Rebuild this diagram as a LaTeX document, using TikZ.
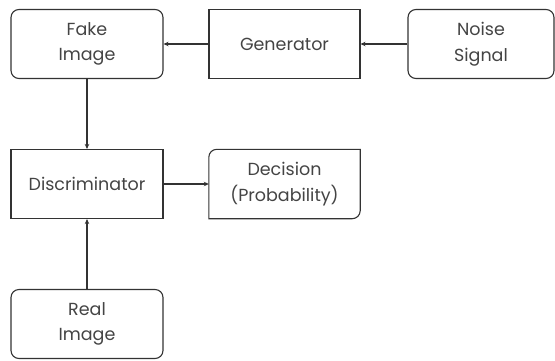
\documentclass[tikz,border=0pt]{standalone}
\usepackage{fontspec}
\setmainfont{Poppins}
\usetikzlibrary{positioning, arrows.meta}
\definecolor{linegray}{HTML}{333333}
\definecolor{textgray}{HTML}{444444}
\tikzstyle{data} = [rectangle, rounded corners=8pt, minimum width=152pt, minimum height=69pt, inner sep=0pt, text centered, draw=linegray, line width=1.1pt, text=textgray, align=center, font=\fontsize{17.5}{25.5}\selectfont]
\tikzstyle{process} = [rectangle, minimum width=151pt, minimum height=69pt, inner sep=0pt, text centered, draw=linegray, line width=1.1pt, text=textgray, align=center, font=\fontsize{17.5}{25.5}\selectfont]
\tikzstyle{output} = [rectangle, minimum width=151pt, minimum height=69pt, inner sep=0pt, text centered, text=textgray, align=center, font=\fontsize{17.5}{25.5}\selectfont]
\tikzstyle{arrow} = [line width=1.1pt, draw=linegray, -{Stealth[length=5pt, width=4.5pt]}]

\begin{document}
\begin{tikzpicture}[node distance=140pt]

\useasboundingbox (-87pt,44pt) rectangle (468pt,-316pt);

\node (fake) [data] {Fake\\Image};
\node (gen) [process, right of=fake, xshift=57.5pt] {Generator};
\node (noise) [data, right of=gen, xshift=56.5pt, minimum width=146pt] {Noise\\Signal};
\node (disc) [process, below of=fake, minimum width=152pt] {Discriminator};
\node (dec) [output, below of=gen] {Decision\\(Probability)};
\node (real) [data, below of=disc] {Real\\Image};

% decision box: only two corners rounded
\draw [line width=1.1pt, draw=linegray] (dec.north east) -- ([yshift=8pt]dec.south east) arc[start angle=0, end angle=-90, radius=8pt] -- (dec.south west) -- ([yshift=-8pt]dec.north west) arc[start angle=180, end angle=90, radius=8pt] -- cycle;

\draw [arrow] (noise) -- (gen);
\draw [arrow] (gen) -- (fake);
\draw [arrow] (fake) -- (disc);
\draw [arrow] (real) -- (disc);
\draw [arrow] (disc) -- (dec);

\end{tikzpicture}
\end{document}
